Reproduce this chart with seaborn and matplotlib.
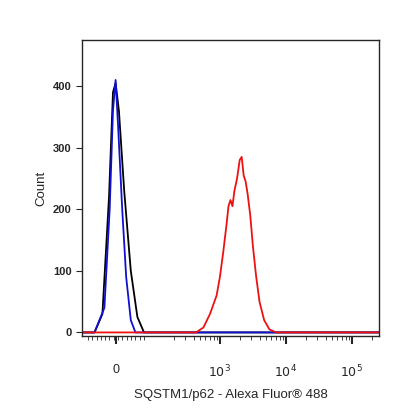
import numpy as np
import matplotlib
matplotlib.use('Agg')
import matplotlib.pyplot as plt
import seaborn as sns
import pandas as pd

# x in display units (decades on biexponential scale), y = count
red_x = [0.91, 2.64, 2.75, 2.85, 2.95, 3.0, 3.05, 3.1, 3.13, 3.16, 3.19, 3.22, 3.26, 3.3, 3.33,
         3.36, 3.39, 3.42, 3.46, 3.5, 3.55, 3.6, 3.67, 3.75, 3.85, 5.41]
red_y = [0, 0, 8, 30, 60, 90, 130, 175, 205, 215, 205, 230, 250, 280, 285,
         255, 245, 225, 190, 140, 90, 50, 20, 5, 0, 0]
blue_x = [0.91, 1.1, 1.25, 1.33, 1.38, 1.42, 1.46, 1.52, 1.58, 1.65, 1.72, 5.41]
blue_y = [0, 0, 40, 200, 360, 410, 330, 200, 90, 20, 0, 0]
black_x = [0.91, 1.1, 1.22, 1.32, 1.38, 1.42, 1.47, 1.55, 1.65, 1.75, 1.85, 5.41]
black_y = [0, 0, 30, 220, 390, 405, 360, 230, 100, 25, 0, 0]

tick_pos = [1.42, 3, 4, 5]
tick_labels = ['0', '$10^3$', '$10^4$', '$10^5$']

sns.set_style('ticks')
plt.rcParams['font.family'] = ['Liberation Sans', 'DejaVu Sans']
fig = plt.figure(figsize=(4.16, 4.16), dpi=100)
ax = fig.add_axes([0.197, 0.192, 0.714, 0.712])

sns.lineplot(x=black_x, y=black_y, color='black', lw=1.3, ax=ax)
sns.lineplot(x=blue_x, y=blue_y, color='#1010d0', lw=1.3, ax=ax)
sns.lineplot(x=red_x, y=red_y, color='#ee1111', lw=1.3, ax=ax)

ax.set_xlim(0.91, 5.41)
ax.set_ylim(-6, 475)
ax.set_xticks(tick_pos)
ax.set_xticklabels(tick_labels, fontsize=9)
minor = []
for d in [3, 4]:
    minor += list(d - 1 + np.log10(np.arange(2, 10)) )
minor = [m for m in minor if m > 1.9] + list(4 + np.log10(np.arange(2, 10))) + [5.3]
minor += list(np.linspace(1.0, 1.85, 14))
ax.set_xticks(minor, minor=True)
ax.tick_params(axis='x', which='major', length=6, width=1.5, pad=14)
ax.tick_params(axis='x', which='minor', length=3)
ax.set_yticks([0, 100, 200, 300, 400])
ax.tick_params(axis='y', labelsize=8, length=4)
for lab in ax.get_yticklabels():
    lab.set_fontweight('bold')
ax.set_xlabel('SQSTM1/p62 - Alexa Fluor\u00ae 488', fontsize=9.5, labelpad=6)
ax.set_ylabel('Count', fontsize=9.5)
for s in ax.spines.values():
    s.set_visible(True)
    s.set_linewidth(1)
fig.savefig('out.png', dpi=100)
